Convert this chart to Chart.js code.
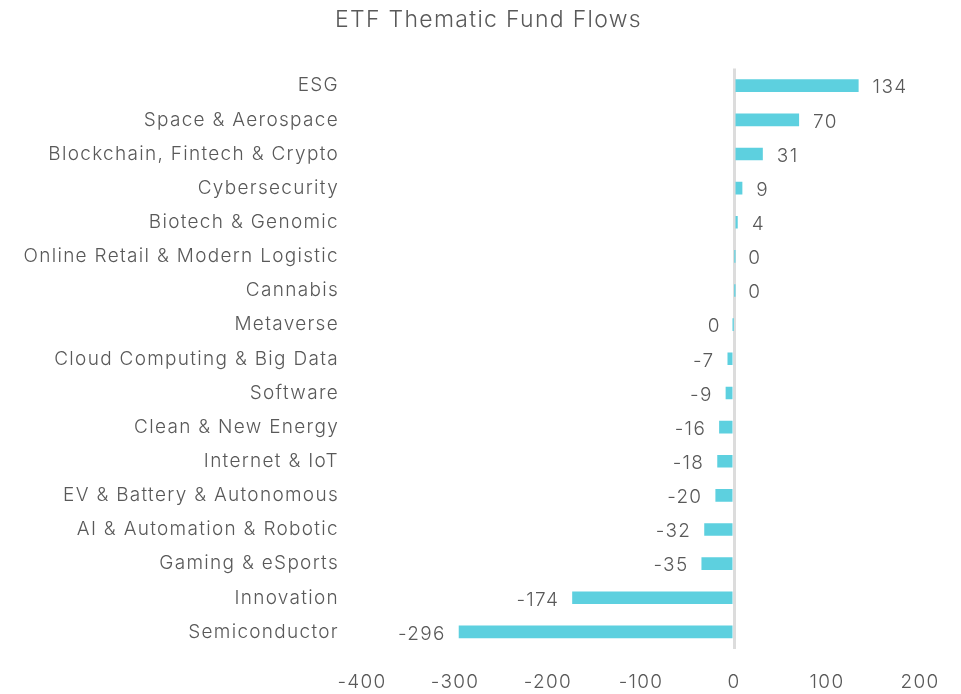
<!DOCTYPE html>
<html>
<head>
<meta charset="utf-8">
<script src="https://cdn.jsdelivr.net/npm/chart.js@4.4.1/dist/chart.umd.min.js"></script>
<style>
  html, body { margin: 0; padding: 0; background: #fff; }
  #box { width: 961px; height: 694px; position: relative; }
</style>
</head>
<body>
<div id="box"><canvas id="graficoFluxos"></canvas></div>
<script>
// categorias e valores (em milhoes)
const temas = [
  'ESG', 'Space & Aerospace', 'Blockchain, Fintech & Crypto', 'Cybersecurity',
  'Biotech & Genomic', 'Online Retail & Modern Logistic', 'Cannabis', 'Metaverse',
  'Cloud Computing & Big Data', 'Software', 'Clean & New Energy', 'Internet & IoT',
  'EV & Battery & Autonomous', 'AI & Automation & Robotic', 'Gaming & eSports',
  'Innovation', 'Semiconductor'
];
const fluxos = [134, 70, 31, 9, 4, 0.3, 0.2, -0.2, -7, -9, -16, -18, -20, -32, -35, -174, -296];
const ticksX = [-400, -300, -200, -100, 0, 100, 200];

const corTexto = '#595959';
const fonte = 'Inter, "Open Sans", sans-serif';

// espaçamento entre letras (a fonte do original é mais larga)
const espacamento = {
  id: 'espacamento',
  beforeLayout(chart) { chart.ctx.letterSpacing = '1.3px'; },
  beforeDraw(chart) { chart.ctx.letterSpacing = '1.3px'; }
};

// plugin simples para escrever o valor ao lado de cada barra
const rotulos = {
  id: 'rotulos',
  afterDatasetsDraw(chart) {
    const ctx = chart.ctx;
    const meta = chart.getDatasetMeta(0);
    ctx.save();
    ctx.font = '300 19px ' + fonte;
    ctx.fillStyle = corTexto;
    ctx.textBaseline = 'middle';
    meta.data.forEach((barra, i) => {
      const v = fluxos[i];
      const txt = String(Math.round(v) === 0 ? 0 : Math.round(v));
      if (v >= 0) {
        ctx.textAlign = 'left';
        ctx.fillText(txt, barra.x + 14, barra.y + 2);
      } else {
        ctx.textAlign = 'right';
        ctx.fillText(txt, barra.x - 13, barra.y + 2);
      }
    });
    ctx.restore();
  }
};

new Chart(document.getElementById('graficoFluxos'), {
  type: 'bar',
  data: {
    labels: temas,
    datasets: [{
      data: fluxos,
      backgroundColor: '#5dd0df',
      barPercentage: 0.37,
      categoryPercentage: 1
    }]
  },
  options: {
    indexAxis: 'y',
    responsive: true,
    maintainAspectRatio: false,
    animation: false,
    layout: { padding: { top: 6, right: 0, bottom: 0, left: 16 } },
    plugins: {
      legend: { display: false },
      tooltip: { enabled: false },
      title: {
        display: true,
        text: 'ETF Thematic Fund Flows',
        color: corTexto,
        font: { family: fonte, size: 23, weight: 300 },
        padding: { top: 0, bottom: 35 }
      }
    },
    scales: {
      x: {
        min: -400,
        max: 200,
        afterBuildTicks(scale) {
          scale.ticks = ticksX.map(v => ({ value: v }));
        },
        afterFit(scale) {
          scale.height = 45;
          scale.paddingRight = 41;
        },
        border: { display: false },
        grid: {
          drawTicks: false,
          color: c => (c.tick && c.tick.value === 0 ? '#dcdcdc' : 'rgba(0,0,0,0)'),
          lineWidth: 3
        },
        ticks: {
          color: corTexto,
          padding: 22,
          font: { family: fonte, size: 19, weight: 300 }
        }
      },
      y: {
        border: { display: false },
        grid: { display: false, drawTicks: false },
        afterFit(scale) { scale.width = 346; },
        ticks: {
          color: corTexto,
          padding: 23,
          font: { family: fonte, size: 19, weight: 300 }
        }
      }
    }
  },
  plugins: [espacamento, rotulos]
});
</script>
</body>
</html>
